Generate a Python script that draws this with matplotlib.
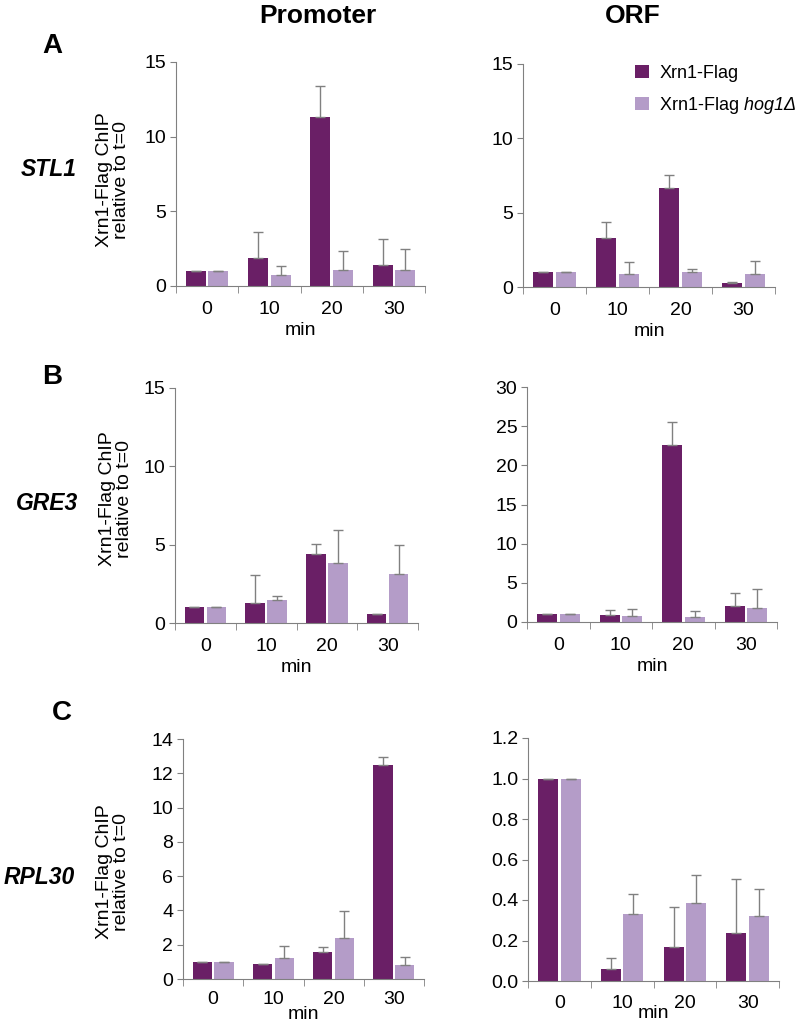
import matplotlib
matplotlib.use("Agg")
import matplotlib.pyplot as plt
import numpy as np

plt.rcParams['font.family'] = ['Liberation Sans', 'DejaVu Sans']
# mathtext only used for the italic strain name in the legend
plt.rcParams['mathtext.fontset'] = 'custom'
plt.rcParams['mathtext.it'] = 'Liberation Sans:italic'
plt.rcParams['mathtext.rm'] = 'Liberation Sans:italic'

# time points (min)
minutes = ['0', '10', '20', '30']

# STL1
stl1_prom_wt = [1.0, 1.88, 11.3, 1.38]
stl1_prom_wt_err = [0.0, 1.75, 2.1, 1.74]
stl1_prom_hog = [1.0, 0.75, 1.1, 1.08]
stl1_prom_hog_err = [0.0, 0.6, 1.25, 1.42]
stl1_orf_wt = [1.0, 3.3, 6.64, 0.28]
stl1_orf_wt_err = [0.0, 1.08, 0.9, 0.04]
stl1_orf_hog = [1.0, 0.85, 1.0, 0.9]
stl1_orf_hog_err = [0.0, 0.8, 0.2, 0.82]

# GRE3
gre3_prom_wt = [1.0, 1.28, 4.42, 0.55]
gre3_prom_wt_err = [0.0, 1.76, 0.6, 0.05]
gre3_prom_hog = [1.0, 1.47, 3.83, 3.1]
gre3_prom_hog_err = [0.0, 0.25, 2.1, 1.9]
gre3_orf_wt = [1.0, 0.95, 22.6, 2.1]
gre3_orf_wt_err = [0.0, 0.6, 2.95, 1.55]
gre3_orf_hog = [1.0, 0.75, 0.7, 1.85]
gre3_orf_hog_err = [0.0, 0.85, 0.7, 2.4]

# RPL30
rpl30_prom_wt = [1.0, 0.9, 1.58, 12.5]
rpl30_prom_wt_err = [0.0, 0.0, 0.3, 0.45]
rpl30_prom_hog = [1.0, 1.25, 2.38, 0.82]
rpl30_prom_hog_err = [0.0, 0.68, 1.58, 0.45]
rpl30_orf_wt = [1.0, 0.059, 0.168, 0.238]
rpl30_orf_wt_err = [0.0, 0.057, 0.197, 0.265]
rpl30_orf_hog = [1.0, 0.329, 0.384, 0.32]
rpl30_orf_hog_err = [0.0, 0.1, 0.137, 0.133]

dark = '#6a1f66'
light = '#b49cc8'
grey = '#808080'

W, H = 800, 1030
fig = plt.figure(figsize=(W / 100, H / 100), dpi=100)


def add_ax(left, right, top, bottom):
    # pixel box -> figure fraction
    return fig.add_axes([left / W, 1 - bottom / H, (right - left) / W, (bottom - top) / H])


def bar_panel(ax, wt, wt_err, hog, hog_err, ymax, ystep, fmt='{:g}', tpad=11, lpad=3):
    x = np.arange(len(minutes))
    ek = dict(ecolor=grey, elinewidth=1, capsize=3.5, capthick=1)
    ax.bar(x - 0.18, wt, width=0.32, color=dark, label='Xrn1-Flag',
           yerr=[np.zeros(len(wt)), wt_err], error_kw=ek, zorder=2)
    ax.bar(x + 0.18, hog, width=0.32, color=light, label='Xrn1-Flag $\\mathrm{hog1Δ}$',
           yerr=[np.zeros(len(hog)), hog_err], error_kw=ek, zorder=2)
    ax.set_xlim(-0.5, 3.5)
    ax.set_ylim(0, ymax)
    yt = np.arange(0, ymax + ystep / 2, ystep)
    ax.set_yticks(yt)
    ax.set_yticklabels([fmt.format(v) for v in yt])
    ax.set_xticks(x)
    ax.set_xticklabels(minutes)
    ax.set_xticks(np.arange(-0.5, 4, 1), minor=True)
    ax.tick_params(axis='x', which='major', length=0, labelsize=14, pad=tpad)
    ax.tick_params(axis='x', which='minor', length=5, direction='out', color=grey)
    ax.tick_params(axis='y', length=4, direction='out', color=grey, labelsize=14, pad=3)
    for s in ['top', 'right']:
        ax.spines[s].set_visible(False)
    for s in ['left', 'bottom']:
        ax.spines[s].set_color(grey)
    ax.set_xlabel('min', fontsize=14, labelpad=lpad)


axA1 = add_ax(176, 425, 62, 286)
bar_panel(axA1, stl1_prom_wt, stl1_prom_wt_err, stl1_prom_hog, stl1_prom_hog_err, 15, 5)
axA2 = add_ax(523, 775, 64, 287)
bar_panel(axA2, stl1_orf_wt, stl1_orf_wt_err, stl1_orf_hog, stl1_orf_hog_err, 15, 5)
axA2.legend(loc='upper left', bbox_to_anchor=(0.38, 1.07), frameon=False, fontsize=13,
            handlelength=0.75, handleheight=0.75, handletextpad=0.6, labelspacing=0.75)

axB1 = add_ax(175, 418, 388, 623)
bar_panel(axB1, gre3_prom_wt, gre3_prom_wt_err, gre3_prom_hog, gre3_prom_hog_err, 15, 5)
axB2 = add_ax(527, 777, 387, 622)
bar_panel(axB2, gre3_orf_wt, gre3_orf_wt_err, gre3_orf_hog, gre3_orf_hog_err, 30, 5)

axC1 = add_ax(183, 424, 739, 979)
bar_panel(axC1, rpl30_prom_wt, rpl30_prom_wt_err, rpl30_prom_hog, rpl30_prom_hog_err, 14, 2,
          tpad=9, lpad=-2)
axC2 = add_ax(528, 779, 738, 981)
bar_panel(axC2, rpl30_orf_wt, rpl30_orf_wt_err, rpl30_orf_hog, rpl30_orf_hog_err, 1.2, 0.2, '{:.1f}',
          tpad=10, lpad=-5)

# column titles
fig.text(318 / W, 1 - 16 / H, 'Promoter', fontsize=19, fontweight='bold', ha='center', va='center')
fig.text(633 / W, 1 - 16 / H, 'ORF', fontsize=19, fontweight='bold', ha='center', va='center')

# panel letters, gene names, y labels
rows = [('A', 52, 46, 'STL1', 49, 170, 113, 180),
        ('B', 52, 377, 'GRE3', 47, 503, 116, 499),
        ('C', 62, 713, 'RPL30', 39, 877, 113, 872)]
for letter, lx, ly, gene, gx, gy, yx, yy in rows:
    fig.text(lx / W, 1 - ly / H, letter, fontsize=20, fontweight='bold', ha='center', va='center')
    fig.text(gx / W, 1 - gy / H, gene, fontsize=16.5, fontweight='bold', style='italic',
             ha='center', va='center')
    fig.text(yx / W, 1 - yy / H, 'Xrn1-Flag ChIP\nrelative to t=0', fontsize=14, rotation=90,
             ha='center', va='center', linespacing=1.0)

fig.savefig('out.png', dpi=100)
